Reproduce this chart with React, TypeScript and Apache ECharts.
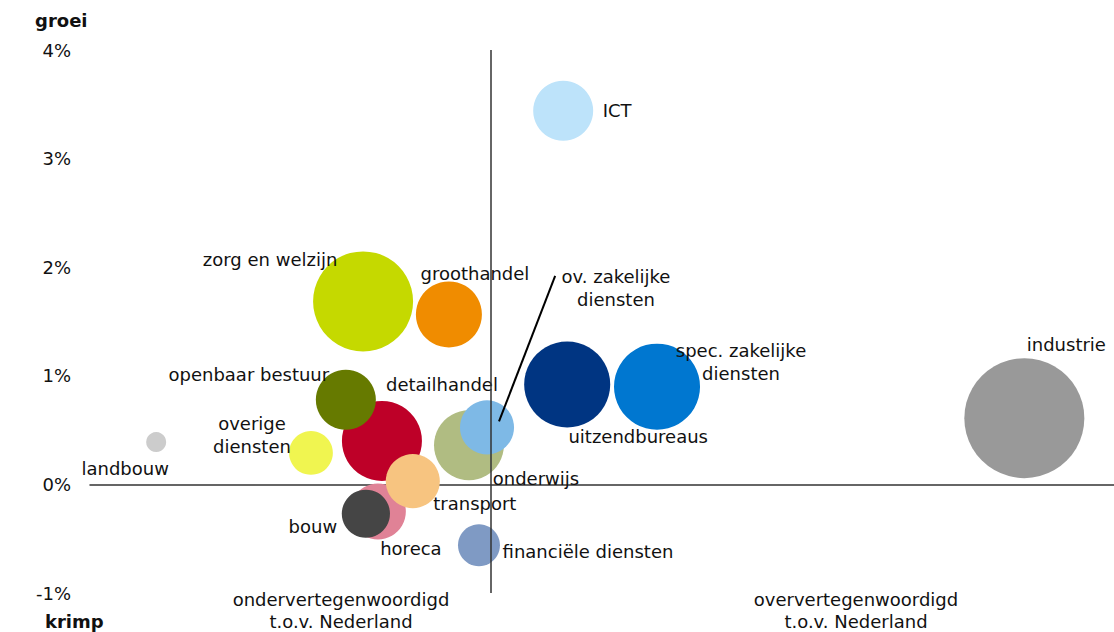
import React, { useEffect, useRef } from "react";
import * as echarts from "echarts";

// Sectors: name, location quotient (x), growth % (y), size (employment index)
const sectors = [
  "landbouw", "overige\ndiensten", "detailhandel", "openbaar bestuur", "horeca", "bouw",
  "onderwijs", "transport", "ov. zakelijke\ndiensten", "financiële diensten",
  "zorg en welzijn", "groothandel", "ICT", "uitzendbureaus", "spec. zakelijke\ndiensten", "industrie",
];
const representation = [0.165, 0.551, 0.728, 0.638, 0.718, 0.688, 0.945, 0.805, 0.99, 0.97, 0.681, 0.895, 1.18, 1.19, 1.414, 2.33];
const growth = [0.39, 0.29, 0.40, 0.78, -0.25, -0.27, 0.36, 0.03, 0.525, -0.56, 1.685, 1.565, 3.44, 0.92, 0.90, 0.61];
const sizes = [10, 48, 160, 90, 78, 58, 122, 73, 73, 44, 250, 109, 90, 185, 185, 360];
const colors = [
  "#CCCCCC", "#F0F550", "#BE0028", "#667A00", "#E08296", "#454545",
  "#B0BC82", "#F7C480", "#7EB9E6", "#7F9AC4",
  "#C5D900", "#F08C00", "#BDE3FA", "#003582", "#0077D0", "#999999",
];
// label offsets relative to bubble centre (layout only)
const labelOffsets = [
  [-31, 26], [-59, -18], [60, -56], [-97, -25], [33, 37], [-53, 13],
  [67, 33], [62, 22], [129, -139], [109, 6],
  [-93, -42], [26, -41], [54, 0], [71, 52], [84, -25], [42, -74],
];
const yTicks = { min: -1, max: 4, interval: 1 };
const leader = [[1.16, 1.92], [1.02, 0.58]];

const FONT = "'DejaVu Sans', Verdana, sans-serif";
const TXT = "#111";

export default function App() {
  const ref = useRef<HTMLDivElement>(null);
  useEffect(() => {
    if (!ref.current) return;
    const chart = echarts.init(ref.current, undefined, { renderer: "svg" });
    const data = sectors.map((name, i) => ({
      name,
      value: [representation[i], growth[i], sizes[i]],
      itemStyle: { color: colors[i], opacity: 1 },
      label: {
        show: true,
        position: "inside",
        offset: labelOffsets[i],
        formatter: name,
        color: TXT,
        fontSize: 18,
        fontFamily: FONT,
        lineHeight: 23,
        align: "center",
      },
    }));
    chart.setOption({
      animation: false,
      textStyle: { fontFamily: FONT },
      grid: { left: 90, right: 0, top: 50, bottom: 39, containLabel: false },
      xAxis: {
        type: "value",
        min: 0,
        max: 2.5536,
        axisLine: { show: true, onZero: true, lineStyle: { color: "#333", width: 1.5 } },
        axisTick: { show: false },
        axisLabel: { show: false },
        splitLine: { show: false },
      },
      yAxis: {
        type: "value",
        min: yTicks.min,
        max: yTicks.max,
        interval: yTicks.interval,
        axisLine: { show: false },
        axisTick: { show: false },
        splitLine: { show: false },
        axisLabel: {
          formatter: "{value}%",
          color: TXT,
          fontSize: 18,
          fontFamily: FONT,
          margin: 19,
        },
      },
      graphic: [
        { type: "text", left: 35, top: 11, style: { text: "groei", font: `bold 18px ${FONT}`, fill: TXT } },
        { type: "text", left: 45, top: 612, style: { text: "krimp", font: `bold 18px ${FONT}`, fill: TXT } },
        {
          type: "text", x: 341, y: 588,
          style: { text: "ondervertegenwoordigd\nt.o.v. Nederland", font: `18px ${FONT}`, fill: TXT, align: "center", lineHeight: 22 },
        },
        {
          type: "text", x: 856, y: 588,
          style: { text: "oververtegenwoordigd\nt.o.v. Nederland", font: `18px ${FONT}`, fill: TXT, align: "center", lineHeight: 22 },
        },
      ],
      series: [
        {
          type: "scatter",
          z: 1,
          data: [],
          markLine: {
            silent: true,
            symbol: "none",
            label: { show: false },
            lineStyle: { color: "#333", width: 1.5, type: "solid" },
            data: [{ xAxis: 1 }],
          },
        },
        {
          type: "scatter",
          z: 2,
          data,
          symbolSize: (v: number[]) => Math.sqrt(v[2]) * 6.325,
          emphasis: { disabled: true },
        },
        {
          type: "scatter",
          z: 5,
          data: [],
          markLine: {
            silent: true,
            symbol: "none",
            label: { show: false },
            lineStyle: { color: "#000", width: 2, type: "solid" },
            data: [[{ coord: leader[0] }, { coord: leader[1] }]],
          },
        },
      ],
    });
    return () => chart.dispose();
  }, []);
  return <div ref={ref} style={{ width: 1114, height: 632, position: "absolute", left: 0, top: 0 }} />;
}
